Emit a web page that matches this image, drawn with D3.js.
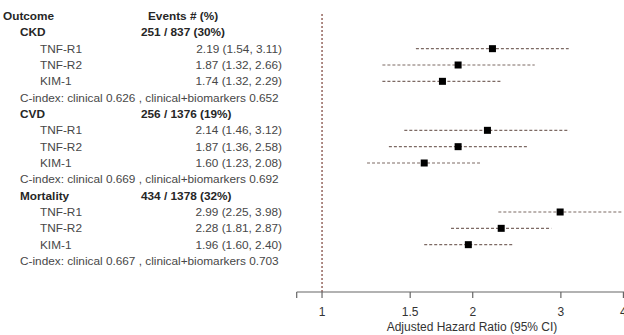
<!DOCTYPE html>
<html><head><meta charset="utf-8">
<script src="https://cdn.jsdelivr.net/npm/d3@7"></script>
<style>body{margin:0;background:#fff}svg{display:block}text{font-family:"Liberation Sans",Arial,sans-serif}</style>
</head><body><svg id="c" width="624" height="335"></svg>
<script>
const outcomes = ["CKD", "CVD", "Mortality"];
const events = ["251 / 837 (30%)", "256 / 1376 (19%)", "434 / 1378 (32%)"];
const biomarkers = ["TNF-R1", "TNF-R2", "KIM-1"];
const hr = [[2.19, 1.87, 1.74], [2.14, 1.87, 1.60], [2.99, 2.28, 1.96]];
const lo = [[1.54, 1.32, 1.32], [1.46, 1.36, 1.23], [2.25, 1.81, 1.60]];
const hi = [[3.11, 2.66, 2.29], [3.12, 2.58, 2.08], [3.98, 2.87, 2.40]];
const cClinical = ["0.626", "0.669", "0.667"];
const cCombined = ["0.652", "0.692", "0.703"];
const tickValues = [1, 1.5, 2, 3, 4];

const svg = d3.select("#c");
const x = d3.scaleLog().domain([0.89, 4.6]).range([296.7, 653.8]);
const y = d3.scaleLinear().domain([0, 15]).range([16, 261]);
const fmt = d3.format(".2f");

const rows = [];
rows.push({type: "header"});
outcomes.forEach((o, i) => {
  rows.push({type: "outcome", o: i});
  biomarkers.forEach((b, j) => rows.push({type: "bio", o: i, b: j}));
  rows.push({type: "cindex", o: i});
});
rows.forEach((r, k) => r.k = k);

const txt = svg.append("g").attr("fill", "#262626").style("font-size", "11.8px");
rows.forEach(r => {
  const yy = y(r.k) + 4;
  if (r.type === "header") {
    txt.append("text").attr("x", 3).attr("y", yy).attr("font-weight", "bold").text("Outcome");
    txt.append("text").attr("x", 148).attr("y", yy).attr("font-weight", "bold").text("Events # (%)");
  } else if (r.type === "outcome") {
    txt.append("text").attr("x", 20).attr("y", yy).attr("font-weight", "bold").text(outcomes[r.o]);
    txt.append("text").attr("x", 141).attr("y", yy).attr("font-weight", "bold").text(events[r.o]);
  } else if (r.type === "bio") {
    txt.append("text").attr("x", 40).attr("y", yy).attr("fill", "#474747").text(biomarkers[r.b]);
    txt.append("text").attr("x", 282).attr("y", yy).attr("text-anchor", "end").attr("fill", "#474747")
      .text(`${fmt(hr[r.o][r.b])} (${fmt(lo[r.o][r.b])}, ${fmt(hi[r.o][r.b])})`);
  } else {
    txt.append("text").attr("x", 20).attr("y", yy).attr("fill", "#474747")
      .text(`C-index: clinical ${cClinical[r.o]} , clinical+biomarkers ${cCombined[r.o]}`);
  }
});

svg.append("line").attr("x1", x(1)).attr("x2", x(1)).attr("y1", 14).attr("y2", 292)
  .attr("stroke", "#7a3f35").attr("stroke-width", 1.2).attr("stroke-dasharray", "2,2");

const bioRows = rows.filter(r => r.type === "bio");
const g = svg.append("g");
g.selectAll("line.ci").data(bioRows).join("line")
  .attr("x1", r => x(lo[r.o][r.b])).attr("x2", r => x(hi[r.o][r.b]))
  .attr("y1", r => y(r.k)).attr("y2", r => y(r.k))
  .attr("stroke", "#7d6a64").attr("stroke-width", 1.2).attr("stroke-dasharray", "3,2");
g.selectAll("rect.pt").data(bioRows).join("rect")
  .attr("x", r => x(hr[r.o][r.b]) - 3.5).attr("y", r => y(r.k) - 3.5)
  .attr("width", 7).attr("height", 7).attr("fill", "#000");

const ax = svg.append("g").attr("transform", "translate(0,292)");
ax.append("line").attr("x1", x.range()[0]).attr("x2", 624).attr("stroke", "#666").attr("stroke-width", 1.2);
const allTicks = [x.domain()[0]].concat(tickValues);
ax.selectAll("line.t").data(allTicks).join("line")
  .attr("x1", d => x(d)).attr("x2", d => x(d)).attr("y1", 0).attr("y2", 6)
  .attr("stroke", "#666").attr("stroke-width", 1.2);
ax.selectAll("text.t").data(tickValues).join("text")
  .attr("x", d => x(d)).attr("y", 24).attr("text-anchor", "middle")
  .attr("fill", "#333").style("font-size", "12px").text(d => d);
svg.append("text").attr("x", 472).attr("y", 331).attr("text-anchor", "middle")
  .attr("fill", "#333").style("font-size", "12px").text("Adjusted Hazard Ratio (95% CI)");
</script></body></html>
